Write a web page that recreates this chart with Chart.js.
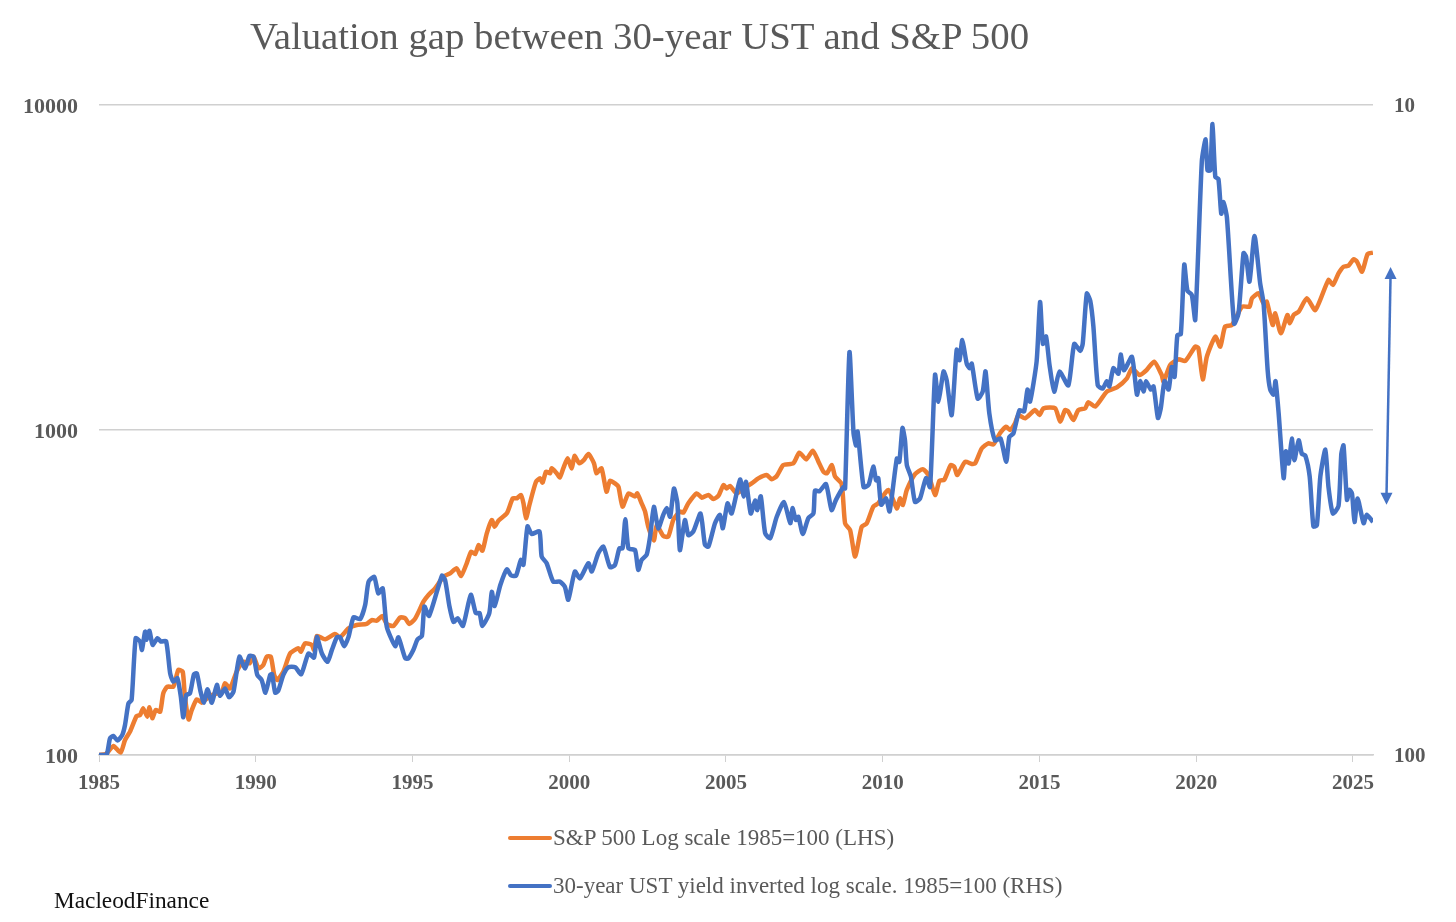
<!DOCTYPE html>
<html lang="en">
  <head>
    <meta charset="UTF-8" />
    <title>Valuation gap between 30-year UST and S&amp;P 500</title>
    <script src="https://cdn.jsdelivr.net/npm/chart.js"></script>
    <style>
      body { margin: 0; background: #fff; font-family: "Liberation Serif", serif; }
      #wrap { position: relative; width: 1456px; height: 922px; overflow: hidden; }
      #myChart { position: absolute; left: 0; top: 0; }
      .txt { position: absolute; white-space: nowrap; color: #595959; }
      #title { left: 250px; top: 13px; font-size: 38.8px; }
      .legend-line { position: absolute; left: 508px; width: 44px; height: 4px; border-radius: 2px; }
      .legend-txt { left: 553px; font-size: 23px; }
      #marca { left: 54px; top: 887px; font-size: 23.3px; color: #111; }
    </style>
  </head>
  <body>
    <div id="wrap">
      <canvas id="myChart" width="1456" height="922"></canvas>
      <div id="title" class="txt">Valuation gap between 30-year UST and S&amp;P 500</div>
      <div class="legend-line" style="top:836px;background:#ed7d31"></div>
      <div class="txt legend-txt" style="top:825px">S&amp;P 500 Log scale 1985=100 (LHS)</div>
      <div class="legend-line" style="top:884px;background:#4472c4"></div>
      <div class="txt legend-txt" style="top:873px">30-year UST yield inverted log scale. 1985=100 (RHS)</div>
      <div id="marca" class="txt">MacleodFinance</div>
    </div>
    <script>
const xTicks = [1985, 1990, 1995, 2000, 2005, 2010, 2015, 2020, 2025];
const leftTicks = [100, 1000, 10000];
const rightTicks = [10, 100];

// S&P 500, 1985=100
const spDates = [
  1985,1985.22,1985.46,1985.69,1985.83,1985.99,1986.2,1986.31,1986.41,1986.54,
  1986.61,1986.7,1986.81,1986.95,1987.05,1987.18,1987.37,1987.53,1987.67,1987.74,
  1987.86,1987.96,1988.12,1988.28,1988.38,1988.6,1988.81,1988.91,1989.02,1989.18,
  1989.39,1989.61,1989.8,1989.93,1990.09,1990.24,1990.35,1990.48,1990.59,1990.69,
  1990.88,1991.1,1991.36,1991.44,1991.57,1991.79,1991.86,1991.95,1992.21,1992.53,
  1992.69,1992.96,1993.22,1993.54,1993.7,1993.86,1994.04,1994.18,1994.39,1994.61,
  1994.77,1994.9,1995.09,1995.35,1995.51,1995.72,1995.99,1996.2,1996.41,1996.55,
  1996.73,1996.87,1997,1997.11,1997.23,1997.37,1997.53,1997.62,1997.74,1998.01,
  1998.2,1998.33,1998.46,1998.54,1998.62,1998.73,
  1998.94,1999.07,1999.15,1999.26,1999.39,1999.44,1999.6,1999.7,1999.81,1999.95,
  2000.08,2000.17,2000.32,2000.47,2000.61,2000.79,2000.87,2001.03,2001.19,2001.3,
  2001.46,2001.57,2001.7,2001.89,2002.1,2002.17,2002.31,2002.42,2002.52,2002.7,
  2002.79,2003,2003.16,2003.32,2003.53,2003.64,2003.8,2004.07,2004.23,2004.44,
  2004.6,2004.76,2004.92,2005.02,2005.13,2005.34,2005.56,2005.82,2006.03,2006.3,
  2006.46,2006.62,2006.83,2007.15,2007.34,2007.56,2007.77,2007.95,2008.11,2008.22,
  2008.38,2008.48,2008.69,2008.8,2008.96,2009.12,2009.33,2009.49,2009.7,2009.86,
  2010.18,2010.45,2010.55,2010.64,2010.77,2011.03,2011.28,2011.46,2011.67,2011.81,
  2011.96,2012.17,2012.28,2012.38,2012.63,2012.84,2012.95,2013.16,2013.37,2013.53,
  2013.74,2013.94,2014.06,2014.22,2014.33,2014.54,2014.86,2015,2015.13,2015.5,
  2015.66,2015.82,2015.92,2016.08,2016.24,2016.46,2016.56,2016.78,2017.15,2017.47,
  2017.79,2017.95,2018.19,2018.42,2018.66,2018.9,2018.96,2019.17,2019.44,2019.65,
  2019.97,2020.07,2020.21,2020.34,2020.61,2020.77,2020.92,2021.14,2021.46,2021.7,
  2021.78,2021.99,2022.15,2022.25,2022.44,2022.52,2022.7,2022.91,2022.98,2023.11,
  2023.27,2023.53,2023.8,2024.22,2024.36,2024.54,2024.7,2024.86,2025.02,2025.13,
  2025.29,2025.47,2025.64
];
const spValues = [
  100,100.7,106.6,101.7,111.2,118,131.8,132.8,139.2,131.2,
  140.2,129.7,137.6,135.9,154.8,162.3,162.3,182.6,180.5,151.2,
  128.7,137.6,148.3,144.9,147.6,153,154.8,154.8,166.2,160.4,
  180.5,193.7,191.4,200.7,184.8,189.2,200.7,200.7,176.2,170.1,
  180.5,205.5,212.9,207.9,220.6,218,210.4,232.4,226.9,235.7,
  230.2,245.3,251.2,253,260.2,259,267.7,253,249.4,265.2,
  263.3,253,263.3,296.3,310.7,325.7,353.8,362.2,375.3,355.5,
  388.8,422.3,415.4,442.7,425.3,480.9,528.5,504.1,526,554.1,
  616.2,616.2,630.9,594.8,534.8,587.8,
  693,710,689,744,736,762,736,715,762,818,
  762,832,790,809,844,790,736,762,646,698,
  685,669,581,638,624,638,595,561,504,457,
  510,472,470,529,561,557,595,638,619,631,
  613,628,677,661,673,638,661,685,710,727,
  705,722,780,790,852,812,864,799,744,736,
  780,719,682,516,492,408,504,516,581,595,
  654,574,616,588,654,732,757,727,631,698,
  702,780,771,727,799,786,790,878,910,903,
  977,1024,1000,1048,1112,1086,1152,1112,1166,1166,
  1061,1152,1139,1073,1152,1166,1217,1180,1312,1353,
  1442,1548,1476,1530,1623,1476,1408,1585,1650,1630,
  1805,1784,1432,1681,1937,1805,2080,2104,2396,2396,
  2542,2633,2453,2482,2104,2285,1984,2259,2129,2259,
  2313,2542,2340,2894,2794,3034,3181,3204,3351,3296,
  3070,3480,3513
];

// rendimento do UST 30 anos, 1985=100, eixo direito invertido
const ustDates = [
  1985,1985.24,1985.35,1985.46,1985.59,1985.74,1985.83,1985.94,1986.04,1986.17,
  1986.31,1986.37,1986.47,1986.52,1986.61,1986.71,1986.87,1986.97,1987.14,1987.27,
  1987.37,1987.5,1987.61,1987.69,1987.78,1987.9,1988.03,1988.12,1988.24,1988.35,
  1988.46,1988.6,1988.76,1988.86,1989.02,1989.15,1989.29,1989.48,1989.66,1989.8,
  1989.93,1990.05,1990.19,1990.31,1990.46,1990.52,1990.62,1990.72,1990.88,1991.04,
  1991.26,1991.45,1991.68,1991.86,1991.95,1992.11,1992.29,1992.43,1992.59,1992.69,
  1992.82,1992.96,1993.12,1993.33,1993.49,1993.6,1993.78,1993.91,1994.05,1994.18,
  1994.45,1994.55,1994.77,1994.87,1995.03,1995.16,1995.3,1995.38,1995.53,1995.94,
  1996.04,1996.18,1996.31,1996.44,1996.61,1996.86,1997.02,1997.14,1997.23,1997.45,
  1997.53,1997.62,1997.8,1998.01,1998.14,1998.3,1998.46,1998.54,1998.67,
  1998.8,1999.05,1999.12,1999.28,1999.49,1999.7,1999.86,1999.97,2000.18,2000.34,
  2000.61,2000.72,2000.93,2001.09,2001.3,2001.46,2001.6,2001.7,2001.79,2001.89,
  2002.1,2002.2,2002.31,2002.47,2002.58,2002.7,2002.84,2003,2003.11,2003.22,
  2003.34,2003.45,2003.53,2003.69,2003.8,2003.96,2004.19,2004.33,2004.44,2004.65,
  2004.81,2004.9,2005.05,2005.18,2005.45,2005.56,2005.64,2005.79,2005.93,2006,
  2006.11,2006.25,2006.41,2006.62,2006.85,2007.05,2007.12,2007.23,2007.31,2007.45,
  2007.63,2007.79,2007.84,2007.98,2008.19,2008.37,2008.51,2008.75,2008.8,2008.94,
  2009.07,2009.15,2009.2,2009.39,2009.55,2009.7,2009.79,2009.86,2009.95,2010.11,
  2010.22,2010.45,2010.53,2010.63,2010.71,2010.77,2010.9,2011.03,2011.19,2011.38,
  2011.51,
  2011.67,2011.78,2011.94,2012.04,2012.2,2012.36,2012.45,2012.54,2012.68,2012.77,
  2012.84,2013.03,2013.19,2013.28,2013.4,2013.58,2013.76,2013.94,2014.04,2014.17,
  2014.36,2014.51,2014.62,2014.7,2014.91,2015.02,2015.11,2015.21,2015.32,2015.47,
  2015.64,2015.92,2016.11,2016.3,2016.38,2016.51,2016.62,2016.72,2016.86,2017.02,
  2017.15,2017.23,2017.36,2017.52,2017.59,2017.7,2017.95,2018.11,2018.21,2018.32,
  2018.4,2018.55,2018.64,2018.78,2018.87,2018.99,2019.12,2019.22,2019.31,2019.4,
  2019.51,2019.62,2019.72,2019.86,2019.97,2020.18,2020.3,2020.36,2020.45,2020.52,
  2020.61,2020.71,2020.8,2020.87,2020.98,2021.21,2021.35,2021.51,2021.59,2021.7,
  2021.86,2022.04,2022.15,2022.28,2022.36,2022.47,2022.53,2022.63,2022.79,2022.86,
  2022.95,2023.05,2023.13,2023.27,2023.37,2023.48,2023.62,2023.74,2023.85,2023.96,
  2024.12,2024.22,2024.36,2024.54,2024.63,2024.7,2024.81,2024.89,2024.97,2025.05,
  2025.15,2025.34,2025.44,2025.64
];
const ustValues = [
  100,100,94.3,93.5,95,93.2,89.9,83.3,82.3,66.1,
  66.9,68.9,64.6,66.5,64.4,67.7,66.1,66.9,66.8,74.9,
  77.1,76.2,81.3,87.5,80.9,80.4,75.1,74.9,79.9,83.1,
  79.2,83.1,78,81.1,79,81.5,79.9,70.6,73.6,70.4,
  70.6,75.3,76.7,80.2,75.3,75.1,80.2,79.6,75.3,73.3,
  73.3,75.1,69.8,70.8,65.8,69.8,71.9,68.9,65.9,65.9,
  68,65.8,61.4,61.8,58.8,54.1,53.2,56.4,55.4,63.5,
  68,65.9,71,71,68.9,66.4,65.6,59.1,61.1,53,
  53.8,59.1,62.4,61.6,63.3,56.7,60.5,60.5,63.3,60.5,
  56.1,59,54.8,51.8,52.9,53,50.1,51,44.5,
  45.7,45.3,49.5,50.7,54.1,54.1,55.1,57.7,52.2,53.5,
  50.7,52.2,48.9,47.8,51.4,51,48.1,48.1,43.4,48.1,
  48.4,51.9,50.1,49.2,46.1,41.5,44.8,42.7,41.7,43,
  38.9,41,48.4,43.5,45.9,45.3,42.5,47.5,47.8,44,
  42.7,44.8,41,42.5,37.7,40,38,42.5,40.6,42,
  40,45.6,46.4,43,40.8,44,41.7,43.5,43,45.7,
  43.2,42.5,39.2,39.3,38.3,42,40.5,38.7,38.9,24,
  32,33.4,31.8,38.7,38.4,36,37.8,37.5,41.2,40.3,
  42.2,35,35.4,31.4,32.8,35.8,37.3,40.8,40.3,37.5,
  38.7,
  26,28.6,25.7,26.5,30,23.8,24.7,23,25,25.4,
  25,28.3,27.6,25.7,29.8,32.8,32.6,35.4,32.4,32,
  29.5,29.6,27.4,28.6,24.8,20.1,23.3,22.7,25.1,27.6,
  25.7,27,23.3,23.9,23.3,19.5,20,21.9,27,27.3,
  26.6,27.1,25.4,25.9,24.2,25.6,24.4,27.9,26.6,27.6,
  26.6,27.4,27.1,30.3,29.3,26.6,27.4,25.3,26.2,22.6,
  22.5,17.6,19.3,19.6,21.4,12.2,11.3,12.6,12.6,10.7,
  12.9,13,14.7,14.1,14.9,21.7,20.9,16.9,17.1,18.7,
  15.9,18.8,20.2,25.6,27.4,27.9,26.6,29.8,37.5,34.1,
  35.6,32.6,35.2,32.8,34.4,34.6,37.3,44.5,44.3,37.3,
  33.9,38.7,42.5,41.4,34.4,33.4,40.5,39.1,39.6,43.8,
  40.3,44,42.7,43.8
];

// seta do gap, em ano e valor do eixo esquerdo
const gapYears = [2026.2, 2026.07];
const gapValues = [3175, 589];

const tickFont = { family: "Liberation Serif", size: 21, weight: "bold" };
const yTickFont = { family: "Liberation Serif", size: 22, weight: "bold" };
const ctx = document.getElementById("myChart");

const gapArrow = {
  id: "gapArrow",
  afterDraw(chart) {
    const c = chart.ctx;
    const x1 = chart.scales.x.getPixelForValue(gapYears[0]);
    const y1 = chart.scales.y.getPixelForValue(gapValues[0]);
    const x2 = chart.scales.x.getPixelForValue(gapYears[1]);
    const y2 = chart.scales.y.getPixelForValue(gapValues[1]);
    c.save();
    c.strokeStyle = "#4472c4";
    c.fillStyle = "#4472c4";
    c.lineWidth = 2.5;
    c.beginPath();
    c.moveTo(x1, y1 + 8);
    c.lineTo(x2, y2 - 8);
    c.stroke();
    c.beginPath();
    c.moveTo(x1, y1);
    c.lineTo(x1 - 6, y1 + 12);
    c.lineTo(x1 + 6, y1 + 12);
    c.closePath();
    c.fill();
    c.beginPath();
    c.moveTo(x2, y2);
    c.lineTo(x2 - 6, y2 - 12);
    c.lineTo(x2 + 6, y2 - 12);
    c.closePath();
    c.fill();
    c.restore();
  }
};

new Chart(ctx, {
  type: "line",
  data: {
    datasets: [
      {
        label: "S&P 500 Log scale 1985=100 (LHS)",
        data: spDates.map((d, i) => ({ x: d, y: spValues[i] })),
        yAxisID: "y",
        borderColor: "#ed7d31",
        borderWidth: 4.5,
        pointRadius: 0,
        tension: 0.2,
        borderJoinStyle: "round",
        order: 2
      },
      {
        label: "30-year UST yield inverted log scale. 1985=100 (RHS)",
        data: ustDates.map((d, i) => ({ x: d, y: ustValues[i] })),
        yAxisID: "y2",
        borderColor: "#4472c4",
        borderWidth: 4.5,
        pointRadius: 0,
        tension: 0.2,
        borderJoinStyle: "round",
        order: 1
      }
    ]
  },
  options: {
    responsive: false,
    animation: false,
    layout: { padding: { top: 105 } },
    plugins: { legend: { display: false }, tooltip: { enabled: false } },
    scales: {
      x: {
        type: "linear",
        min: 1985,
        max: 2025.64,
        afterBuildTicks: s => { s.ticks = xTicks.map(v => ({ value: v })); },
        afterFit: s => { s.height = 167; },
        grid: { drawOnChartArea: false, color: "#d0d0d0", tickLength: 7 },
        border: { color: "#d0d0d0", width: 1.5 },
        ticks: { color: "#595959", font: tickFont, padding: 9, maxRotation: 0, autoSkip: false, callback: v => String(v) }
      },
      y: {
        type: "logarithmic",
        position: "left",
        min: 100,
        max: 10000,
        afterBuildTicks: s => { s.ticks = leftTicks.map(v => ({ value: v })); },
        afterFit: s => { s.width = 99; },
        grid: { color: "#d0d0d0", lineWidth: 1.5, drawTicks: false },
        border: { display: false },
        ticks: { color: "#595959", font: yTickFont, padding: 21, labelOffset: 2, callback: v => String(v) }
      },
      y2: {
        type: "logarithmic",
        position: "right",
        reverse: true,
        min: 10,
        max: 100,
        afterBuildTicks: s => { s.ticks = rightTicks.map(v => ({ value: v })); },
        afterFit: s => { s.width = 83; },
        grid: { drawOnChartArea: false, drawTicks: false },
        border: { display: false },
        ticks: { color: "#595959", font: tickFont, padding: 21, labelOffset: 2, callback: v => String(v) }
      }
    }
  },
  plugins: [gapArrow]
});
    </script>
  </body>
</html>
